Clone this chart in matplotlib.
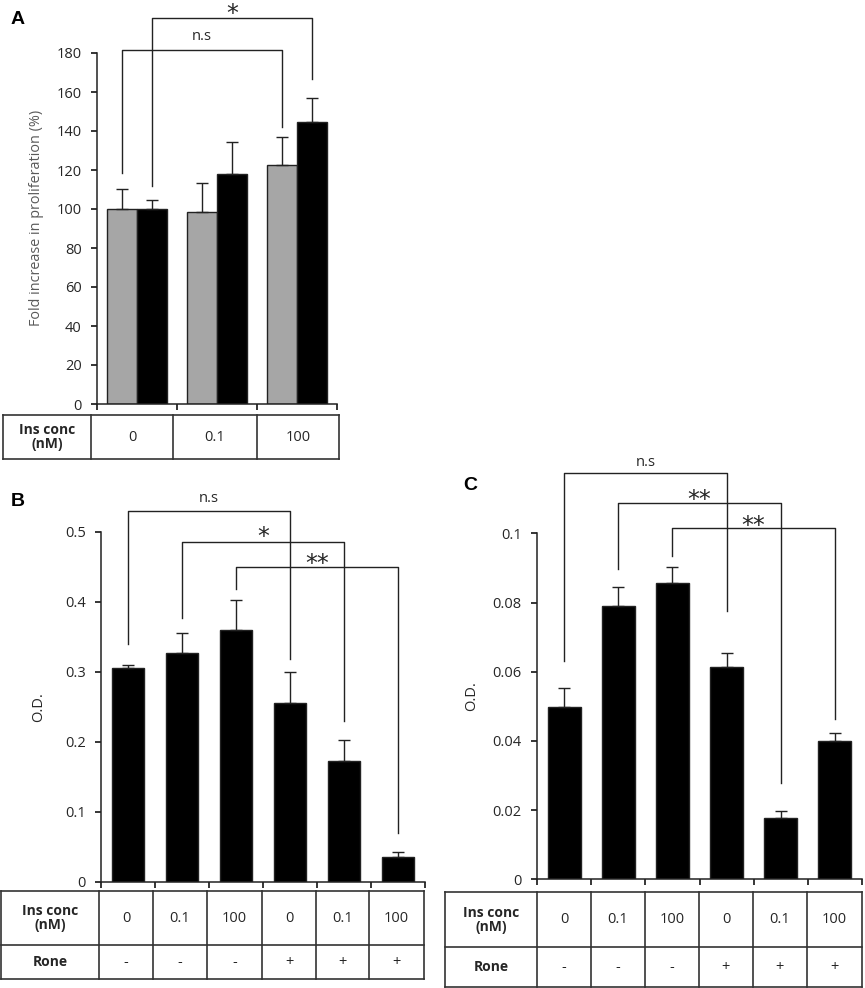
import matplotlib
matplotlib.use('Agg')
import matplotlib.pyplot as plt
from matplotlib.ticker import FuncFormatter
import numpy as np

plt.rcParams['font.family'] = ['Open Sans', 'DejaVu Sans']

# panel A data
ins_conc_a = ['0', '0.1', '100']
a_gray = [100, 98.6, 122.4]
a_gray_err = [10.4, 14.6, 14.4]
a_black = [100, 118.1, 144.6]
a_black_err = [4.8, 16.1, 12.5]

# panels B and C
ins_conc = ['0', '0.1', '100', '0', '0.1', '100']
rone = ['-', '-', '-', '+', '+', '+']
b_vals = [0.305, 0.327, 0.360, 0.255, 0.173, 0.036]
b_err = [0.005, 0.029, 0.042, 0.045, 0.029, 0.007]
c_vals = [0.0499, 0.0790, 0.0855, 0.0613, 0.0176, 0.0399]
c_err = [0.0055, 0.0056, 0.0049, 0.0042, 0.0022, 0.0023]

# brackets: (x1, x2, top, leg1 end, leg2 end, label, label lift in px)
a_brackets = [(-0.185, 1.815, 181.7, 118.5, 141.9, 'n.s', 13),
              (0.185, 2.185, 198.0, 112.0, 166.8, '*', 10)]
b_brackets = [(0, 3, 0.5295, 0.340, 0.3176, 'n.s', 13),
              (1, 4, 0.485, 0.3767, 0.2295, '*', 11),
              (2, 5, 0.450, 0.4176, 0.070, '**', 9)]
c_brackets = [(0, 3, 0.1173, 0.0631, 0.0776, 'n.s', 11),
              (1, 4, 0.1087, 0.0896, 0.0279, '**', 9),
              (2, 5, 0.1014, 0.0934, 0.0464, '**', 9)]

W, H = 865, 988
fig = plt.figure(figsize=(W / 100, H / 100), dpi=100)
tc = '#262626'
STAR_FS = 17


def px_axes(x0, y0, x1, y1):
    return fig.add_axes([x0 / W, 1 - y1 / H, (x1 - x0) / W, (y1 - y0) / H])


def style(ax):
    for s in ['top', 'right']:
        ax.spines[s].set_visible(False)
    for s in ['left', 'bottom']:
        ax.spines[s].set_linewidth(1.1)
        ax.spines[s].set_color('#222222')
    ax.tick_params(axis='y', direction='out', length=4.5, width=1.1, pad=6.5,
                   labelsize=10.5, labelcolor=tc)
    ax.tick_params(axis='x', direction='out', length=4, width=1.1, labelbottom=False)
    ax.yaxis.set_major_formatter(FuncFormatter(lambda v, p: '%g' % round(v, 4)))


def brackets(ax, br):
    inv = ax.transData.inverted()
    for x1, x2, top, e1, e2, lab, lift in br:
        ax.plot([x1, x1, x2, x2], [e1, top, top, e2], color='#222222', lw=1.0,
                clip_on=False)
        xm = (x1 + x2) / 2
        yp = ax.transData.transform((xm, top))[1]
        if lab == 'n.s':
            y = inv.transform((0, yp + lift))[1]
            ax.text(xm, y, lab, ha='center', va='center', fontsize=10.5, color=tc)
        else:
            # asterisk glyph sits ~0.555 em above the baseline
            em = STAR_FS * 100 / 72
            y = inv.transform((0, yp + lift - 0.555 * em))[1]
            ax.text(xm, y, lab, ha='center', va='baseline', fontsize=STAR_FS,
                    color=tc, family=['DejaVu Sans'])


# ---- panel A
axA = px_axes(97, 53, 337, 404)
xa = np.arange(len(ins_conc_a))
bw = 0.37
axA.bar(xa - bw / 2, a_gray, bw, color='#a6a6a6', edgecolor='#222222', lw=1.0,
        yerr=[np.zeros(3), a_gray_err], capsize=4,
        error_kw=dict(ecolor='#222222', elinewidth=1.0, capthick=1.0))
axA.bar(xa + bw / 2, a_black, bw, color='black', edgecolor='#222222', lw=1.0,
        yerr=[np.zeros(3), a_black_err], capsize=4,
        error_kw=dict(ecolor='#222222', elinewidth=1.0, capthick=1.0))
axA.set_xlim(-0.5, 2.5)
axA.set_ylim(0, 180)
axA.set_yticks(range(0, 181, 20))
axA.set_xticks([-0.5, 0.5, 1.5, 2.5])
style(axA)
axA.set_ylabel('Fold increase in proliferation (%)', fontsize=10.4, color='#595959')
axA.yaxis.set_label_coords(-0.222, 0.531)
brackets(axA, a_brackets)


def six_panel(box, vals, err, ymax, step, br, lab_xy):
    ax = px_axes(*box)
    x = np.arange(len(vals))
    ax.bar(x, vals, 0.61, color='black', edgecolor='#222222', lw=1.0,
           yerr=[np.zeros(len(vals)), err], capsize=4.5,
           error_kw=dict(ecolor='#222222', elinewidth=1.0, capthick=1.0))
    ax.set_xlim(-0.5, len(vals) - 0.5)
    ax.set_ylim(0, ymax)
    ax.set_yticks(np.arange(0, ymax + step / 2, step))
    ax.set_xticks(np.arange(-0.5, len(vals), 1.0))
    style(ax)
    ax.set_ylabel('O.D.', fontsize=10.5, color=tc)
    ax.yaxis.set_label_coords(*lab_xy)
    brackets(ax, br)
    return ax


axB = six_panel((101, 531.7, 425, 881.7), b_vals, b_err, 0.5, 0.1, b_brackets,
                (-0.168, 0.5))
axC = six_panel((537, 533.3, 862, 879.3), c_vals, c_err, 0.1, 0.02, c_brackets,
                (-0.177, 0.531))

# ---- tables and panel letters drawn in pixel space
bg = fig.add_axes([0, 0, 1, 1])
bg.set_xlim(0, W)
bg.set_ylim(H, 0)
bg.axis('off')
lc = '#333333'


def table(xs, rows_y, rows):
    x0, x1 = xs[0], xs[-1]
    for y in rows_y:
        bg.plot([x0, x1], [y, y], color=lc, lw=1.2)
    for x in xs:
        bg.plot([x, x], [rows_y[0], rows_y[-1]], color=lc, lw=1.2)
    for r, (head, cells) in enumerate(rows):
        yc = (rows_y[r] + rows_y[r + 1]) / 2
        bg.text((xs[0] + xs[1]) / 2, yc, head, ha='center', va='center',
                fontsize=10, fontweight='bold', color=tc, linespacing=1.0)
        for i, c in enumerate(cells):
            bg.text((xs[i + 1] + xs[i + 2]) / 2, yc, c, ha='center', va='center',
                    fontsize=10.5, color=tc)


table([3, 91, 173, 257, 339], [415, 459], [('Ins conc\n(nM)', ins_conc_a)])
table([1, 99, 153, 207, 262, 316, 369, 424], [891, 945, 979],
      [('Ins conc\n(nM)', ins_conc), ('Rone', rone)])
table([445, 537, 591, 645, 699, 753, 807, 862], [892, 947, 987],
      [('Ins conc\n(nM)', ins_conc), ('Rone', rone)])

for lab, x, y in [('A', 17.5, 20), ('B', 17.5, 501), ('C', 470.5, 485)]:
    bg.text(x, y, lab, ha='center', va='center', fontsize=14, fontweight='bold',
            color='black', family=['Liberation Sans', 'DejaVu Sans'])

fig.savefig('out.png', dpi=100)
